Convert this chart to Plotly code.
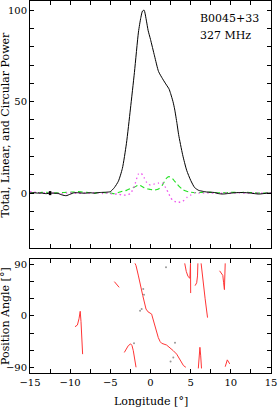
import plotly.graph_objects as go

# ---------------- data ----------------
lon = [-15, -14.5, -14, -13.5, -13, -12.5, -12, -11.5, -11, -10.5, -10, -9.5, -9, -8.5, -8,
       -7.5, -7, -6.5, -6, -5.5, -5, -4.5, -4, -3.5, -3, -2.5, -2, -1.5, -1.2, -1, -0.8,
       -0.5, -0.3, 0, 0.5, 1, 1.5, 2, 2.3, 2.5, 2.8, 3, 3.3, 3.5, 4, 4.5, 5, 5.5, 6, 6.5, 7,
       7.5, 8, 8.5, 9, 9.5, 10, 10.5, 11, 11.5, 12, 12.5, 13, 13.5, 14, 14.5, 15]

total = [0, 0.2, 0, 0, -0.3, 0, 0, -0.2, -1.0, -1.4, -0.6, 0.2, 0.2, 0, 0,
         0.2, 0, 0.3, 0.4, 0.5, 0.8, 3, 6.5, 13.5, 27, 46, 66, 88, 96, 99.5, 100,
         94, 89, 84, 75, 66.5, 62.5, 59, 57, 54.5, 50, 46, 38, 32, 21, 12.5, 7, 3, 1.5, 1, 0.6,
         0.5, 0.3, -0.3, -0.5, -0.3, 0, 0.2, 0.3, 0.3, 0.2, 0, -0.3, -0.5, -0.3, 0, 0]

linear = [0, 0.2, 0.3, 0.4, 0.5, 0.2, 0, 0.2, 0.3, 0.4, 0.5, 0.6, 0.8, 0.6, 0.5,
          0.2, 0, 0.2, 0.3, 0.1, 0, -0.3, 0.3, 1, 1.5, 2.5, 3.2, 4.4, 4.0, 3.5, 3.0,
          2.5, 2.2, 2, 1.7, 2.2, 4.5, 8.2, 9, 8.6, 7.6, 6.5, 5, 4, 2, 1, 0.5, 0.2, 0.3, 0.4, 0.5,
          0.4, 0.3, 0.2, 0.2, 0.3, 0.5, 0.4, 0.3, 0.4, 0.5, 0.3, 0.2, 0.1, 0, 0, 0]

circular = [0.8, 0.5, 0.3, 0, 0.2, 0.1, 0, -0.2, -0.3, 0, 0.2, 0, -0.2, 0, 0,
            0, 0.2, 0, -0.2, 0, -0.3, -0.5, -0.5, -1.1, -1, -0.3, 4, 10.5, 11, 10, 8.5,
            6, 5, 4.4, 5, 5.5, 5.5, 2, -0.5, -2.5, -4, -4.5, -5, -5, -4.5, -2.5, -1.1, 0.2, 0, 0, 0.2,
            0, 0, -0.2, 0, 0.2, 0, 0, 0.2, 0, 0, 0, 0, 0.2, 0, 0, 0]

err_lon = [-12.5]
err_val = [0]
err_size = [1.1]

# position-angle segments: (longitude, PA)
pa_A = [(-9.4, -19), (-9.1, -16), (-8.9, -5), (-8.75, 8), (-8.65, -10), (-8.55, -40), (-8.45, -67)]
pa_B = [(-4.5, 60), (-3.9, 50)]
pa_C = [(-1.93, 92), (-1.8, 88), (-1.5, 70), (-1.3, 56), (-0.97, 36), (-0.56, 12), (-0.3, 7),
        (-0.06, 5), (0.15, 3), (0.2, 0), (0.35, -8), (0.56, -20), (0.97, -38), (1.2, -45),
        (1.39, -48), (2.0, -51), (2.4, -55), (2.84, -61), (3.26, -67), (3.67, -76), (4.1, -87),
        (4.4, -90)]
pa_D = [(-3.26, -64), (-2.95, -55), (-2.76, -52), (-2.47, -49), (-2.3, -52), (-2.14, -61),
        (-1.95, -75), (-1.8, -90)]
pa_E = [(4.26, 92), (4.45, 78), (4.67, 69), (4.9, 66), (4.98, 92), (5.0, 40)]
pa_F1 = [(5.55, 53), (5.75, 58), (5.85, 70), (5.9, 92)]
pa_F2 = [(6.3, 92), (6.5, 65), (6.8, 30), (7.1, -3)]
pa_G = [(8.6, 79), (8.85, 75), (9.0, 71), (9.1, 58), (9.2, 46), (9.3, 92)]
pa_H = [(5.95, -92), (6.1, -70), (6.15, -55), (6.25, -70), (6.35, -92)]
pa_I = [(9.3, -89), (9.56, -77), (9.86, -84)]
pa_segments = [pa_A, pa_B, pa_C, pa_D, pa_E, pa_F1, pa_F2, pa_G, pa_H, pa_I]

grey_lon = [-1.3, -1.1, -0.81, -0.9, -2.05, 1.93, 3.05, 2.84, 2.5]
grey_pa = [9, 12, 37, 47, -48, 85, -47, -73, -80]

x_ticks = [-15, -10, -5, 0, 5, 10, 15]

# ---------------- figure ----------------
FONT = "DejaVu Serif"
fig = go.Figure()

fig.add_trace(go.Scatter(x=lon, y=linear, mode="lines", line=dict(color="#22e022", width=1.1, dash="5px,3px", shape="spline", smoothing=0.6),
                         xaxis="x", yaxis="y", showlegend=False))
fig.add_trace(go.Scatter(x=lon, y=circular, mode="lines", line=dict(color="#ee55ee", width=1.3, dash="1.5px,3px", shape="spline", smoothing=0.6),
                         xaxis="x", yaxis="y", showlegend=False))
fig.add_trace(go.Scatter(x=lon, y=total, mode="lines", line=dict(color="black", width=1, shape="spline", smoothing=0.6),
                         xaxis="x", yaxis="y", showlegend=False))
fig.add_trace(go.Scatter(x=err_lon, y=err_val, mode="markers", marker=dict(size=1, color="black"),
                         error_y=dict(type="data", array=err_size, color="black", thickness=2.5, width=0),
                         xaxis="x", yaxis="y", showlegend=False))

px, py = [], []
for seg in pa_segments:
    for a, b in seg:
        px.append(a)
        py.append(b)
    px.append(None)
    py.append(None)
fig.add_trace(go.Scatter(x=px, y=py, mode="lines", line=dict(color="#ff3535", width=1),
                         connectgaps=False, xaxis="x2", yaxis="y2", showlegend=False))
fig.add_trace(go.Scatter(x=grey_lon, y=grey_pa, mode="markers", marker=dict(size=2, color="#999999"),
                         xaxis="x2", yaxis="y2", showlegend=False))

axis_common = dict(showline=True, linecolor="black", linewidth=1, mirror="ticks",
                   ticks="inside", ticklen=4, tickcolor="black", showgrid=False, zeroline=False,
                   automargin=False,
                   tickfont=dict(family=FONT, size=10, color="black"))

fig.update_layout(
    template="none",
    width=278, height=407,
    margin=dict(l=30, r=7, t=1, b=34, autoexpand=False),
    paper_bgcolor="white", plot_bgcolor="white",
    xaxis=dict(domain=[0, 1], range=[-15, 15], anchor="y", tickvals=x_ticks, showticklabels=False,
               minor=dict(dtick=2.5, tick0=0, ticks="inside", ticklen=4, tickcolor="black"), **axis_common),
    yaxis=dict(domain=[0.336, 1], range=[-30, 105], anchor="x", tickvals=[0, 50, 100],
               minor=dict(dtick=10, tick0=0, ticks="inside", ticklen=4, tickcolor="black"), **axis_common),
    xaxis2=dict(domain=[0, 1], range=[-15, 15], anchor="y2", tickvals=x_ticks,
                minor=dict(dtick=2.5, tick0=0, ticks="inside", ticklen=4, tickcolor="black"), **axis_common),
    yaxis2=dict(domain=[0, 0.307], range=[-100, 100], anchor="x2", tickvals=[-90, 0, 90],
                minor=dict(dtick=30, tick0=0, ticks="inside", ticklen=4, tickcolor="black"), **axis_common),
)

ann_font = dict(family=FONT, size=11, color="black")
fig.add_annotation(text="Total, Linear, and Circular Power", textangle=-90, xref="paper", yref="y",
                   x=-0.0996, y=37.5, xanchor="center", yanchor="middle", showarrow=False, font=ann_font)
fig.add_annotation(text="Position Angle [°]", textangle=-90, xref="paper", yref="y2",
                   x=-0.0996, y=0, xanchor="center", yanchor="middle", showarrow=False, font=ann_font)
fig.add_annotation(text="Longitude [°]", xref="x2", yref="paper", x=0, y=-0.0772,
                   xanchor="center", yanchor="middle", showarrow=False, font=ann_font)
fig.add_annotation(text="B0045+33", xref="x", yref="y", x=5.9, y=95.6,
                   xanchor="left", yanchor="middle", showarrow=False, font=ann_font)
fig.add_annotation(text="327 MHz", xref="x", yref="y", x=5.9, y=86.3,
                   xanchor="left", yanchor="middle", showarrow=False, font=ann_font)

fig.write_html("out.html", config={"displayModeBar": False},
               post_script="document.body.style.margin='0';document.body.style.padding='0';")
